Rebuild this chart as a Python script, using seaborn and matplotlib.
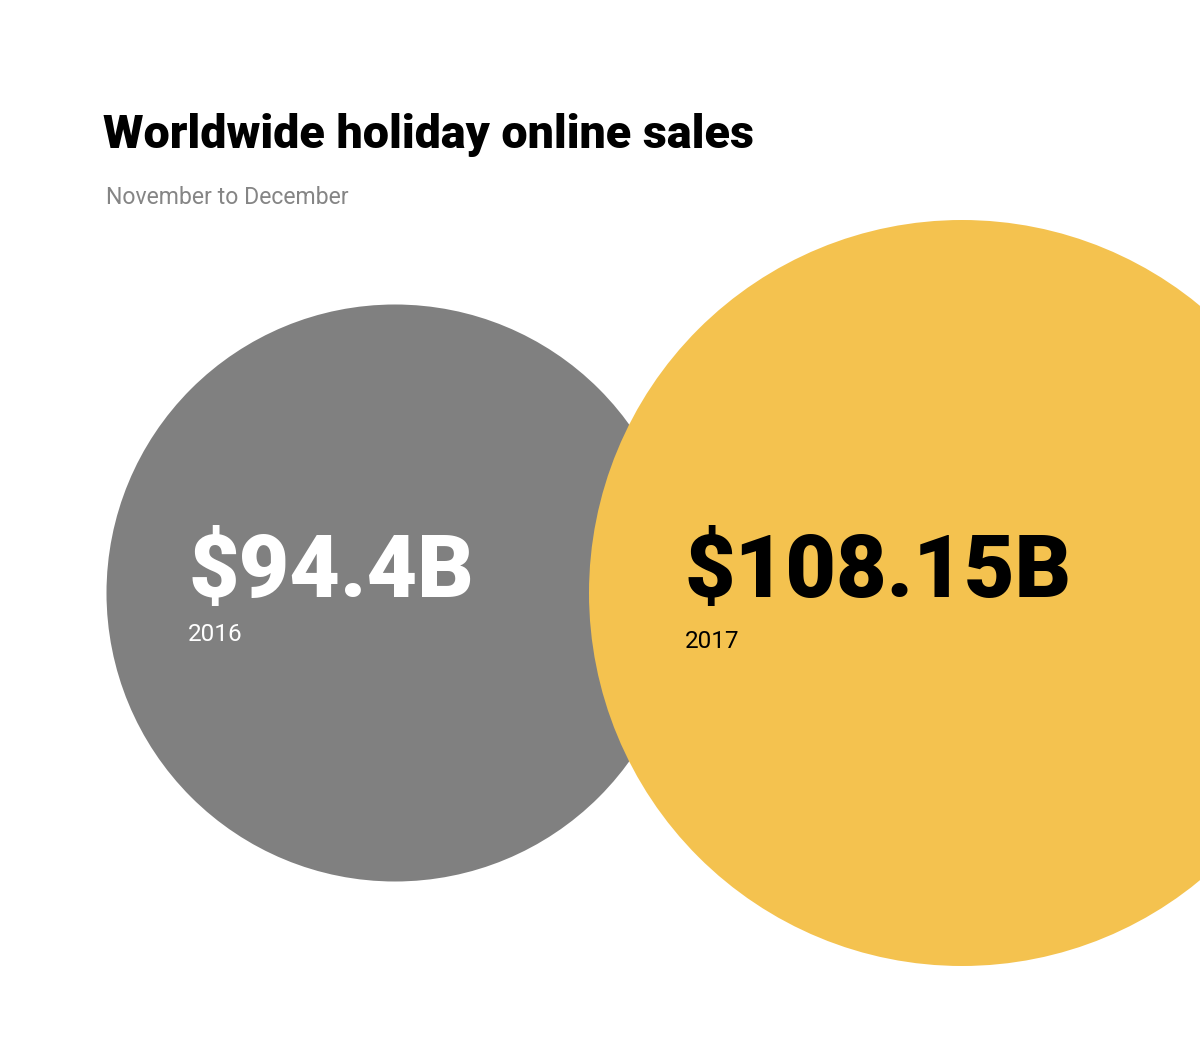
import pandas as pd
import matplotlib.pyplot as plt
import seaborn as sns

# data
years = [2016, 2017]
sales_billion = [94.4, 108.15]
value_labels = ["$94.4B", "$108.15B"]
colors = ["#808080", "#F4C24F"]

title = "Worldwide holiday online sales"
subtitle = "November to December"

df = pd.DataFrame({"year": years, "sales": sales_billion})

sns.set_theme(style="white")
plt.rcParams["font.family"] = ["Roboto", "DejaVu Sans"]

W, H = 1200, 1057
fig = plt.figure(figsize=(W / 100, H / 100), dpi=100)
ax = fig.add_axes([0, 0, 1, 1])

# circle areas in pt^2 (1px = 0.72pt at 100 dpi)
d_small = 577 * 0.72
d_big = 746 * 0.72
sns.scatterplot(data=df, x="year", y=0, hue="year", palette=colors,
                size="sales", sizes=(d_small ** 2, d_big ** 2),
                linewidth=0, legend=False, ax=ax, zorder=1)

# map years onto pixels: 2016 -> x=395, 2017 -> x=962; row at y=593
step = 962 - 395
ax.set_xlim(2016 - 395 / step, 2016 + (W - 395) / step)
ax.set_ylim(-(H - 593) / H, 593 / H)
ax.axis("off")

heavy = dict(family=["Roboto", "DejaVu Sans"], weight="black")

fig.text(103 / W, 1 - 148 / H, title, fontsize=33.6, color="black",
         ha="left", va="baseline", **heavy)
fig.text(106 / W, 1 - 204 / H, subtitle, fontsize=16.6, color="#858585",
         ha="left", va="baseline")

label_x = [188, 685]
label_base = [597, 597]
year_base = [641, 648]
text_colors = ["white", "black"]
for i in range(len(years)):
    fig.text(label_x[i] / W, 1 - label_base[i] / H, value_labels[i],
             fontsize=63, color=text_colors[i], ha="left", va="baseline",
             **heavy)
    fig.text(label_x[i] / W, 1 - year_base[i] / H, str(years[i]),
             fontsize=17.5, color=text_colors[i], ha="left", va="baseline")

fig.savefig("out.png", dpi=100, facecolor="white")
